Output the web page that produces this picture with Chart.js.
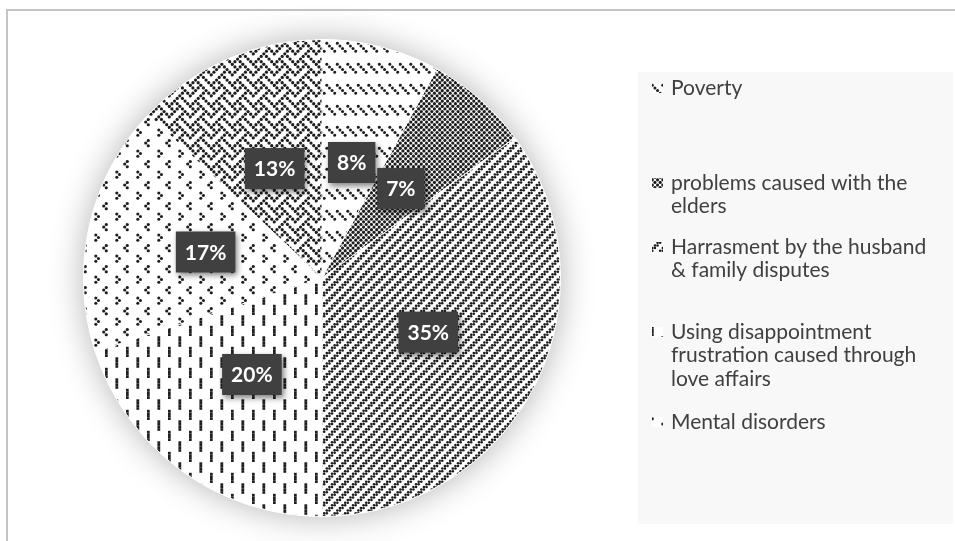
<!DOCTYPE html>
<html>
<head>
<meta charset="utf-8">
<script src="https://cdn.jsdelivr.net/npm/chart.js@4.4.1/dist/chart.umd.min.js"></script>
<style>
  html, body { margin: 0; padding: 0; background: #fff; }
  #wrap { position: relative; width: 955px; height: 541px; overflow: hidden; }
  canvas { position: absolute; left: 0; top: 0; }
</style>
</head>
<body>
<div id="wrap"><canvas id="chart" width="955" height="541"></canvas></div>
<script>
// Données du graphique
const categories = [
    'Poverty',
    ['problems caused with the', 'elders'],
    ['Harrasment by the husband', '& family disputes'],
    ['Using disappointment', 'frustration caused through', 'love affairs'],
    'Mental disorders',
    'Other'
];
const values = [8, 7, 35, 20, 17, 13];
const percentLabels = ['8%', '7%', '35%', '20%', '17%', '13%'];

// Motifs (style Excel, 8x8)
const patternKinds = ['dashDnDiag', 'smCheck', 'dkUpDiag', 'dashVert', 'divot', 'weave'];

// Mise en page de la légende (seules 5 entrées sont visibles)
const legendShown = 5;
const legendTops = [88, 183, 247, 332, 422];
const legendLineHeight = 23.5;

const HATCH = {
    dashDnDiag: { bits: [0x88, 0x44, 0x22, 0x11, 0, 0, 0, 0], r: 1.5 },
    smCheck:    { bits: [0xaa, 0x55, 0xaa, 0x55, 0xaa, 0x55, 0xaa, 0x55], r: 1.6 },
    dkUpDiag:   { bits: [0x33, 0x66, 0xcc, 0x99, 0x33, 0x66, 0xcc, 0x99], r: 1.3 },
    dashVert:   { bits: [0x08, 0x08, 0x08, 0x08, 0x80, 0x80, 0x80, 0x80], bar: 2.8 },
    divot:      { bits: [0x00, 0x08, 0x04, 0x08, 0x00, 0x80, 0x01, 0x80], r: 1.55 },
    weave:      { bits: [0x88, 0x54, 0x22, 0x45, 0x88, 0x14, 0x22, 0x51], r: 1.6 }
};

function makePattern(ctx, kind) {
    const def = HATCH[kind];
    const size = 21, cell = size / 8;
    const tile = document.createElement('canvas');
    tile.width = size;
    tile.height = size;
    const t = tile.getContext('2d');
    t.fillStyle = '#fff';
    t.fillRect(0, 0, size, size);
    t.fillStyle = '#1e1e1e';
    def.bits.forEach((row, y) => {
        for (let x = 0; x < 8; x++) {
            if (!(row & (0x80 >> x))) continue;
            const cx = (x + 0.5) * cell, cy = (y + 0.5) * cell;
            if (def.bar) {
                t.fillRect(cx - def.bar / 2, y * cell + 0.3, def.bar, cell);
            } else {
                // on dessine aussi les copies pour que les points débordants se raccordent
                for (const dx of [-size, 0, size]) {
                    for (const dy of [-size, 0, size]) {
                        t.beginPath();
                        t.arc(cx + dx, cy + dy, def.r, 0, Math.PI * 2);
                        t.fill();
                    }
                }
            }
        }
    });
    return ctx.createPattern(tile, 'repeat');
}

const canvas = document.getElementById('chart');
const ctx = canvas.getContext('2d');
const patterns = patternKinds.map(k => makePattern(ctx, k));

// Cadre gris en haut et à gauche
const frame = {
    id: 'frame',
    beforeDraw(chart) {
        const c = chart.ctx;
        c.save();
        c.strokeStyle = '#c4c4c4';
        c.lineWidth = 2;
        c.beginPath();
        c.moveTo(7, 541);
        c.lineTo(7, 10);
        c.lineTo(955, 10);
        c.stroke();
        c.restore();
    }
};

// Ombre douce autour du camembert
const pieShadow = {
    id: 'pieShadow',
    beforeDatasetsDraw(chart) {
        const arc = chart.getDatasetMeta(0).data[0];
        if (!arc) return;
        const c = chart.ctx;
        c.save();
        c.shadowColor = 'rgba(0,0,0,0.3)';
        c.shadowBlur = 34;
        c.fillStyle = '#fff';
        c.beginPath();
        c.arc(arc.x, arc.y, arc.outerRadius, 0, Math.PI * 2);
        c.fill();
        c.restore();
    }
};

// Étiquettes de pourcentage dans des boîtes sombres
const labelBoxes = {
    id: 'labelBoxes',
    afterDatasetsDraw(chart) {
        const c = chart.ctx;
        const meta = chart.getDatasetMeta(0);
        c.save();
        c.font = 'bold 21px Lato';
        c.textAlign = 'center';
        c.textBaseline = 'middle';
        meta.data.forEach((arc, i) => {
            const p = arc.tooltipPosition();
            const txt = percentLabels[i];
            const w = c.measureText(txt).width + 18, h = 41;
            c.shadowColor = 'rgba(0,0,0,0.5)';
            c.shadowBlur = 6;
            c.shadowOffsetX = 2;
            c.shadowOffsetY = 3;
            c.fillStyle = '#404040';
            c.fillRect(p.x - w / 2, p.y - h / 2, w, h);
            c.shadowColor = 'transparent';
            c.fillStyle = '#fff';
            c.fillText(txt, p.x, p.y + 1);
        });
        c.restore();
    }
};

// Légende à droite
const sideLegend = {
    id: 'sideLegend',
    afterDraw(chart) {
        const c = chart.ctx;
        c.save();
        c.fillStyle = '#f8f8f8';
        c.fillRect(638, 72, 315, 452);
        c.font = '21px Lato';
        c.textBaseline = 'middle';
        chart.data.labels.slice(0, legendShown).forEach((label, i) => {
            const lines = [].concat(label);
            const y = legendTops[i];
            c.fillStyle = chart.data.datasets[0].backgroundColor[i];
            c.fillRect(652, y - 5, 11, 10);
            c.fillStyle = '#404040';
            lines.forEach((line, j) => c.fillText(line, 671, y + j * legendLineHeight));
        });
        c.restore();
    }
};

new Chart(ctx, {
    type: 'pie',
    data: {
        labels: categories,
        datasets: [{
            data: values,
            backgroundColor: patterns,
            borderColor: '#ffffff',
            borderWidth: 1,
            hoverOffset: 0
        }]
    },
    options: {
        responsive: false,
        animation: false,
        events: [],
        layout: { padding: { left: 83, top: 39, right: 394, bottom: 24 } },
        plugins: {
            legend: { display: false },
            tooltip: { enabled: false }
        }
    },
    plugins: [frame, pieShadow, labelBoxes, sideLegend]
});
</script>
</body>
</html>
